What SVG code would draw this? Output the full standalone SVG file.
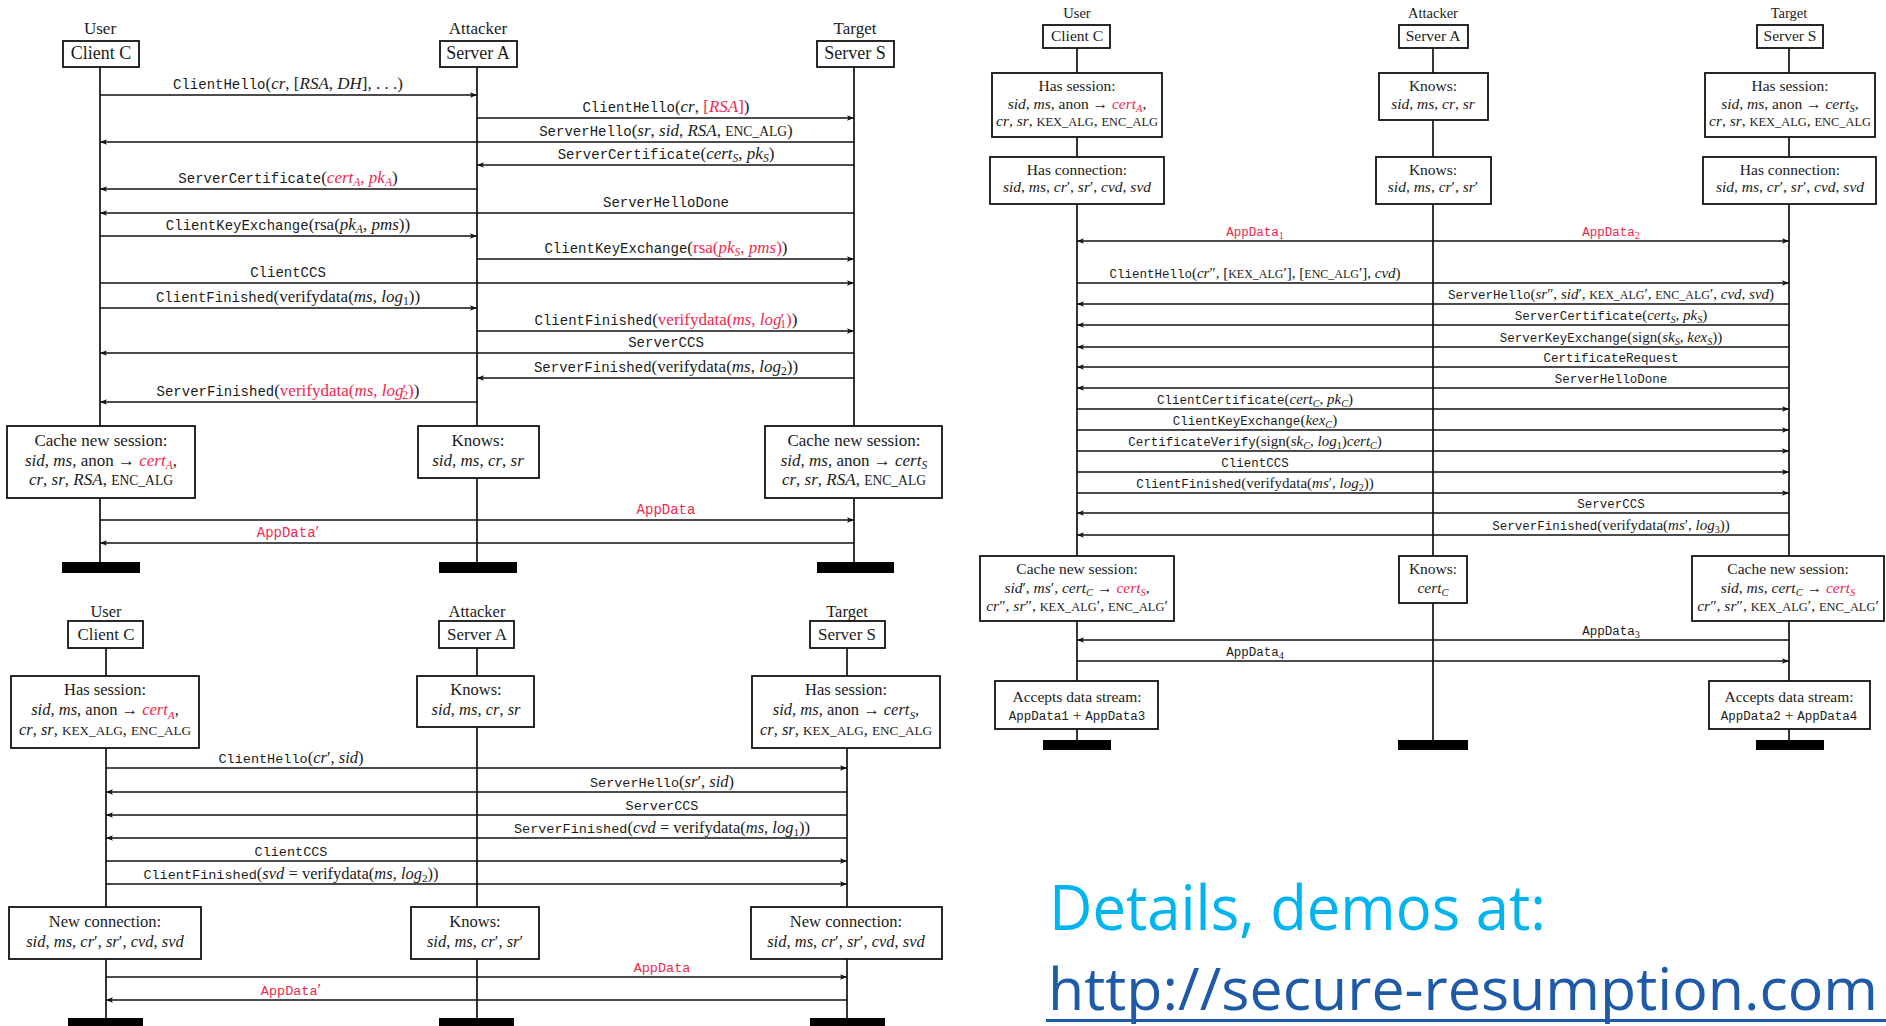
<svg xmlns="http://www.w3.org/2000/svg" width="1886" height="1026" viewBox="0 0 1886 1026">
<defs>
<style>
text { font-family:"Liberation Serif","DejaVu Serif",serif; fill:#1b1b1b; text-anchor:middle; }
.t { font-family:"Liberation Mono","DejaVu Sans Mono",monospace; }
.i { font-style:italic; }
.r { fill:#f0284f; }
.sb { font-size:68%; }
.k { font-size:80%; }
.box { fill:#fff; stroke:#111; stroke-width:1.8; }
.life { stroke:#111; stroke-width:1.7; }
.msg { stroke:#111; stroke-width:1.3; marker-end:url(#ah); }
.bar { fill:#000; }
.s1 text { font-size:17px; } .s1 .t { font-size:14px; } .s1 .hd { font-size:18px; }
.s2 text { font-size:16.5px; } .s2 .t { font-size:13.5px; } .s2 .hd { font-size:17px; }
.s3 text { font-size:15.5px; } .s3 .lab { font-size:15px; } .s3 .t { font-size:12.5px; } .s3 .role { font-size:14.5px; }
.big { font-family:"Open Sans","Noto Sans",sans-serif; font-size:62px; text-anchor:start; }
</style>
<marker id="ah" markerUnits="userSpaceOnUse" markerWidth="9" markerHeight="8" refX="7" refY="4" orient="auto">
<path d="M0,1.2 L7,4 L0,6.8 L1.6,4 z" fill="#111"/>
</marker>
</defs>
<rect width="1886" height="1026" fill="#fff"/>

<!-- ===== connectors: lifelines and messages ===== -->
<g id="connectors">
  <!-- full handshake, top left -->
  <g class="s1">
    <line class="life" x1="100" y1="67" x2="100" y2="562"/>
    <line class="life" x1="477" y1="67" x2="477" y2="562"/>
    <line class="life" x1="854" y1="67" x2="854" y2="562"/>
    <line class="msg" x1="100" y1="95" x2="477" y2="95"/>
    <line class="msg" x1="477" y1="118" x2="854" y2="118"/>
    <line class="msg" x1="854" y1="142" x2="100" y2="142"/>
    <line class="msg" x1="854" y1="165" x2="477" y2="165"/>
    <line class="msg" x1="477" y1="189" x2="100" y2="189"/>
    <line class="msg" x1="854" y1="213" x2="100" y2="213"/>
    <line class="msg" x1="100" y1="236" x2="477" y2="236"/>
    <line class="msg" x1="477" y1="259" x2="854" y2="259"/>
    <line class="msg" x1="100" y1="283" x2="854" y2="283"/>
    <line class="msg" x1="100" y1="308" x2="477" y2="308"/>
    <line class="msg" x1="477" y1="331" x2="854" y2="331"/>
    <line class="msg" x1="854" y1="353" x2="100" y2="353"/>
    <line class="msg" x1="854" y1="378" x2="477" y2="378"/>
    <line class="msg" x1="477" y1="402" x2="100" y2="402"/>
    <line class="msg" x1="100" y1="520" x2="854" y2="520"/>
    <line class="msg" x1="854" y1="543" x2="100" y2="543"/>

    <text x="288" y="88.5"><tspan class="t">ClientHello</tspan>(<tspan class="i">cr</tspan>, [<tspan class="i">RSA</tspan>, <tspan class="i">DH</tspan>], . . .)</text>
    <text x="666" y="111.5"><tspan class="t">ClientHello</tspan>(<tspan class="i">cr</tspan>, <tspan class="r">[<tspan class="i">RSA</tspan>]</tspan>)</text>
    <text x="666" y="135.5"><tspan class="t">ServerHello</tspan>(<tspan class="i">sr</tspan>, <tspan class="i">sid</tspan>, <tspan class="i">RSA</tspan>, <tspan class="k">ENC_ALG</tspan>)</text>
    <text x="666" y="158.5"><tspan class="t">ServerCertificate</tspan>(<tspan class="i">cert</tspan><tspan class="i sb" dy="3.5">S</tspan><tspan dy="-3.5">, </tspan><tspan class="i">pk</tspan><tspan class="i sb" dy="3.5">S</tspan><tspan dy="-3.5">)</tspan></text>
    <text x="288" y="182.5"><tspan class="t">ServerCertificate</tspan>(<tspan class="r"><tspan class="i">cert</tspan><tspan class="i sb" dy="3.5">A</tspan><tspan dy="-3.5">, </tspan><tspan class="i">pk</tspan><tspan class="i sb" dy="3.5">A</tspan></tspan><tspan dy="-3.5">)</tspan></text>
    <text x="666" y="206.5" class="t">ServerHelloDone</text>
    <text x="288" y="229.5"><tspan class="t">ClientKeyExchange</tspan>(rsa(<tspan class="i">pk</tspan><tspan class="i sb" dy="3.5">A</tspan><tspan dy="-3.5">, </tspan><tspan class="i">pms</tspan>))</text>
    <text x="666" y="252.5"><tspan class="t">ClientKeyExchange</tspan>(<tspan class="r">rsa(<tspan class="i">pk</tspan><tspan class="i sb" dy="3.5">S</tspan><tspan dy="-3.5">, </tspan><tspan class="i">pms</tspan>)</tspan>)</text>
    <text x="288" y="276.5" class="t">ClientCCS</text>
    <text x="288" y="301.5"><tspan class="t">ClientFinished</tspan>(verifydata(<tspan class="i">ms</tspan>, <tspan class="i">log</tspan><tspan class="sb" dy="3.5">1</tspan><tspan dy="-3.5">))</tspan></text>
    <text x="666" y="324.5"><tspan class="t">ClientFinished</tspan>(<tspan class="r">verifydata(<tspan class="i">ms</tspan>, <tspan class="i">log</tspan><tspan dx="-1">′</tspan><tspan class="sb" dx="-4" dy="3.5">1</tspan><tspan dy="-3.5">)</tspan></tspan>)</text>
    <text x="666" y="346.5" class="t">ServerCCS</text>
    <text x="666" y="371.5"><tspan class="t">ServerFinished</tspan>(verifydata(<tspan class="i">ms</tspan>, <tspan class="i">log</tspan><tspan class="sb" dy="3.5">2</tspan><tspan dy="-3.5">))</tspan></text>
    <text x="288" y="395.5"><tspan class="t">ServerFinished</tspan>(<tspan class="r">verifydata(<tspan class="i">ms</tspan>, <tspan class="i">log</tspan><tspan dx="-1">′</tspan><tspan class="sb" dx="-4" dy="3.5">2</tspan><tspan dy="-3.5">)</tspan></tspan>)</text>
    <text x="666" y="513.5" class="t r">AppData</text>
    <text x="288" y="536.5" class="r"><tspan class="t">AppData</tspan>′</text>
  </g>

  <!-- abbreviated handshake, bottom left -->
  <g class="s2">
    <line class="life" x1="106" y1="648" x2="106" y2="1018"/>
    <line class="life" x1="477" y1="648" x2="477" y2="1018"/>
    <line class="life" x1="847" y1="648" x2="847" y2="1018"/>
    <line class="msg" x1="106" y1="768" x2="847" y2="768"/>
    <line class="msg" x1="847" y1="792" x2="106" y2="792"/>
    <line class="msg" x1="847" y1="815" x2="106" y2="815"/>
    <line class="msg" x1="847" y1="838" x2="106" y2="838"/>
    <line class="msg" x1="106" y1="861" x2="847" y2="861"/>
    <line class="msg" x1="106" y1="884" x2="847" y2="884"/>
    <line class="msg" x1="106" y1="977" x2="847" y2="977"/>
    <line class="msg" x1="847" y1="1000" x2="106" y2="1000"/>

    <text x="291" y="762.5"><tspan class="t">ClientHello</tspan>(<tspan class="i">cr</tspan>′, <tspan class="i">sid</tspan>)</text>
    <text x="662" y="786.5"><tspan class="t">ServerHello</tspan>(<tspan class="i">sr</tspan>′, <tspan class="i">sid</tspan>)</text>
    <text x="662" y="809.5" class="t">ServerCCS</text>
    <text x="662" y="832.5"><tspan class="t">ServerFinished</tspan>(<tspan class="i">cvd</tspan> = verifydata(<tspan class="i">ms</tspan>, <tspan class="i">log</tspan><tspan class="sb" dy="3.5">1</tspan><tspan dy="-3.5">))</tspan></text>
    <text x="291" y="855.5" class="t">ClientCCS</text>
    <text x="291" y="878.5"><tspan class="t">ClientFinished</tspan>(<tspan class="i">svd</tspan> = verifydata(<tspan class="i">ms</tspan>, <tspan class="i">log</tspan><tspan class="sb" dy="3.5">2</tspan><tspan dy="-3.5">))</tspan></text>
    <text x="662" y="971.5" class="t r">AppData</text>
    <text x="291" y="994.5" class="r"><tspan class="t">AppData</tspan>′</text>
  </g>

  <!-- renegotiation with client certificate, right -->
  <g class="s3">
    <line class="life" x1="1077" y1="48" x2="1077" y2="740"/>
    <line class="life" x1="1433" y1="48" x2="1433" y2="740"/>
    <line class="life" x1="1789" y1="48" x2="1789" y2="740"/>
    <line class="msg" x1="1433" y1="241" x2="1077" y2="241"/>
    <line class="msg" x1="1433" y1="241" x2="1789" y2="241"/>
    <line class="msg" x1="1077" y1="283" x2="1789" y2="283"/>
    <line class="msg" x1="1789" y1="304" x2="1077" y2="304"/>
    <line class="msg" x1="1789" y1="325" x2="1077" y2="325"/>
    <line class="msg" x1="1789" y1="347" x2="1077" y2="347"/>
    <line class="msg" x1="1789" y1="367" x2="1077" y2="367"/>
    <line class="msg" x1="1789" y1="388" x2="1077" y2="388"/>
    <line class="msg" x1="1077" y1="409" x2="1789" y2="409"/>
    <line class="msg" x1="1077" y1="430" x2="1789" y2="430"/>
    <line class="msg" x1="1077" y1="451" x2="1789" y2="451"/>
    <line class="msg" x1="1077" y1="472" x2="1789" y2="472"/>
    <line class="msg" x1="1077" y1="493" x2="1789" y2="493"/>
    <line class="msg" x1="1789" y1="513" x2="1077" y2="513"/>
    <line class="msg" x1="1789" y1="535" x2="1077" y2="535"/>
    <line class="msg" x1="1789" y1="640" x2="1077" y2="640"/>
    <line class="msg" x1="1077" y1="661" x2="1789" y2="661"/>

    <text class="lab r" x="1255" y="236"><tspan class="t">AppData</tspan><tspan class="sb" dy="3">1</tspan></text>
    <text class="lab r" x="1611" y="236"><tspan class="t">AppData</tspan><tspan class="sb" dy="3">2</tspan></text>
    <text class="lab" x="1255" y="278"><tspan class="t">ClientHello</tspan>(<tspan class="i">cr</tspan>″, [<tspan class="k">KEX_ALG</tspan>′], [<tspan class="k">ENC_ALG</tspan>′], <tspan class="i">cvd</tspan>)</text>
    <text class="lab" x="1611" y="299"><tspan class="t">ServerHello</tspan>(<tspan class="i">sr</tspan>″, <tspan class="i">sid</tspan>′, <tspan class="k">KEX_ALG</tspan>′, <tspan class="k">ENC_ALG</tspan>′, <tspan class="i">cvd</tspan>, <tspan class="i">svd</tspan>)</text>
    <text class="lab" x="1611" y="320"><tspan class="t">ServerCertificate</tspan>(<tspan class="i">cert</tspan><tspan class="i sb" dy="3">S</tspan><tspan dy="-3">, </tspan><tspan class="i">pk</tspan><tspan class="i sb" dy="3">S</tspan><tspan dy="-3">)</tspan></text>
    <text class="lab" x="1611" y="342"><tspan class="t">ServerKeyExchange</tspan>(sign(<tspan class="i">sk</tspan><tspan class="i sb" dy="3">S</tspan><tspan dy="-3">, </tspan><tspan class="i">kex</tspan><tspan class="i sb" dy="3">S</tspan><tspan dy="-3">))</tspan></text>
    <text class="t" x="1611" y="362">CertificateRequest</text>
    <text class="t" x="1611" y="383">ServerHelloDone</text>
    <text class="lab" x="1255" y="404"><tspan class="t">ClientCertificate</tspan>(<tspan class="i">cert</tspan><tspan class="i sb" dy="3">C</tspan><tspan dy="-3">, </tspan><tspan class="i">pk</tspan><tspan class="i sb" dy="3">C</tspan><tspan dy="-3">)</tspan></text>
    <text class="lab" x="1255" y="425"><tspan class="t">ClientKeyExchange</tspan>(<tspan class="i">kex</tspan><tspan class="i sb" dy="3">C</tspan><tspan dy="-3">)</tspan></text>
    <text class="lab" x="1255" y="446"><tspan class="t">CertificateVerify</tspan>(sign(<tspan class="i">sk</tspan><tspan class="i sb" dy="3">C</tspan><tspan dy="-3">, </tspan><tspan class="i">log</tspan><tspan class="sb" dy="3">1</tspan><tspan dy="-3">)</tspan><tspan class="i">cert</tspan><tspan class="i sb" dy="3">C</tspan><tspan dy="-3">)</tspan></text>
    <text class="t" x="1255" y="467">ClientCCS</text>
    <text class="lab" x="1255" y="488"><tspan class="t">ClientFinished</tspan>(verifydata(<tspan class="i">ms</tspan>′, <tspan class="i">log</tspan><tspan class="sb" dy="3">2</tspan><tspan dy="-3">))</tspan></text>
    <text class="t" x="1611" y="508">ServerCCS</text>
    <text class="lab" x="1611" y="530"><tspan class="t">ServerFinished</tspan>(verifydata(<tspan class="i">ms</tspan>′, <tspan class="i">log</tspan><tspan class="sb" dy="3">3</tspan><tspan dy="-3">))</tspan></text>
    <text class="lab" x="1611" y="635"><tspan class="t">AppData</tspan><tspan class="sb" dy="3">3</tspan></text>
    <text class="lab" x="1255" y="656"><tspan class="t">AppData</tspan><tspan class="sb" dy="3">4</tspan></text>
  </g>
</g>

<!-- ===== participants and state boxes: full handshake ===== -->
<g class="s1">
  <g id="tl-client">
    <text x="100" y="34">User</text>
    <rect class="box" x="63" y="41" width="76" height="26"/>
    <text class="hd" x="101" y="59">Client C</text>
    <rect class="box" x="7" y="426" width="188" height="72"/>
    <text x="101" y="446">Cache new session:</text>
    <text x="101" y="465.5"><tspan class="i">sid</tspan>, <tspan class="i">ms</tspan>, anon → <tspan class="r"><tspan class="i">cert</tspan><tspan class="i sb" dy="3.5">A</tspan></tspan><tspan dy="-3.5">,</tspan></text>
    <text x="101" y="485"><tspan class="i">cr</tspan>, <tspan class="i">sr</tspan>, <tspan class="i">RSA</tspan>, <tspan class="k">ENC_ALG</tspan></text>
    <rect class="bar" x="62" y="562" width="78" height="11"/>
  </g>
  <g id="tl-attacker">
    <text x="478" y="34">Attacker</text>
    <rect class="box" x="440" y="41" width="77" height="26"/>
    <text class="hd" x="478" y="59">Server A</text>
    <rect class="box" x="418" y="426" width="121" height="52"/>
    <text x="478" y="446">Knows:</text>
    <text x="478" y="465.5"><tspan class="i">sid</tspan>, <tspan class="i">ms</tspan>, <tspan class="i">cr</tspan>, <tspan class="i">sr</tspan></text>
    <rect class="bar" x="439" y="562" width="78" height="11"/>
  </g>
  <g id="tl-target">
    <text x="855" y="34">Target</text>
    <rect class="box" x="817" y="41" width="77" height="26"/>
    <text class="hd" x="855" y="59">Server S</text>
    <rect class="box" x="765" y="426" width="177" height="72"/>
    <text x="854" y="446">Cache new session:</text>
    <text x="854" y="465.5"><tspan class="i">sid</tspan>, <tspan class="i">ms</tspan>, anon → <tspan class="i">cert</tspan><tspan class="i sb" dy="3.5">S</tspan></text>
    <text x="854" y="485"><tspan class="i">cr</tspan>, <tspan class="i">sr</tspan>, <tspan class="i">RSA</tspan>, <tspan class="k">ENC_ALG</tspan></text>
    <rect class="bar" x="817" y="562" width="77" height="11"/>
  </g>
</g>

<!-- ===== participants and state boxes: abbreviated handshake ===== -->
<g class="s2">
  <g id="bl-client">
    <text x="106" y="617">User</text>
    <rect class="box" x="68" y="621" width="75" height="27"/>
    <text class="hd" x="106" y="640">Client C</text>
    <rect class="box" x="11" y="676" width="188" height="72"/>
    <text x="105" y="695">Has session:</text>
    <text x="105" y="715"><tspan class="i">sid</tspan>, <tspan class="i">ms</tspan>, anon → <tspan class="r"><tspan class="i">cert</tspan><tspan class="i sb" dy="3.5">A</tspan></tspan><tspan dy="-3.5">,</tspan></text>
    <text x="105" y="735"><tspan class="i">cr</tspan>, <tspan class="i">sr</tspan>, <tspan class="k">KEX_ALG</tspan>, <tspan class="k">ENC_ALG</tspan></text>
    <rect class="box" x="9" y="907" width="192" height="52"/>
    <text x="105" y="927">New connection:</text>
    <text x="105" y="947"><tspan class="i">sid</tspan>, <tspan class="i">ms</tspan>, <tspan class="i">cr</tspan>′, <tspan class="i">sr</tspan>′, <tspan class="i">cvd</tspan>, <tspan class="i">svd</tspan></text>
    <rect class="bar" x="68" y="1018" width="75" height="12"/>
  </g>
  <g id="bl-attacker">
    <text x="477" y="617">Attacker</text>
    <rect class="box" x="439" y="621" width="75" height="27"/>
    <text class="hd" x="477" y="640">Server A</text>
    <rect class="box" x="417" y="676" width="117" height="51"/>
    <text x="476" y="695">Knows:</text>
    <text x="476" y="715"><tspan class="i">sid</tspan>, <tspan class="i">ms</tspan>, <tspan class="i">cr</tspan>, <tspan class="i">sr</tspan></text>
    <rect class="box" x="411" y="907" width="128" height="52"/>
    <text x="475" y="927">Knows:</text>
    <text x="475" y="947"><tspan class="i">sid</tspan>, <tspan class="i">ms</tspan>, <tspan class="i">cr</tspan>′, <tspan class="i">sr</tspan>′</text>
    <rect class="bar" x="439" y="1018" width="75" height="12"/>
  </g>
  <g id="bl-target">
    <text x="847" y="617">Target</text>
    <rect class="box" x="810" y="621" width="75" height="27"/>
    <text class="hd" x="847" y="640">Server S</text>
    <rect class="box" x="752" y="676" width="188" height="72"/>
    <text x="846" y="695">Has session:</text>
    <text x="846" y="715"><tspan class="i">sid</tspan>, <tspan class="i">ms</tspan>, anon → <tspan class="i">cert</tspan><tspan class="i sb" dy="3.5">S</tspan><tspan dy="-3.5">,</tspan></text>
    <text x="846" y="735"><tspan class="i">cr</tspan>, <tspan class="i">sr</tspan>, <tspan class="k">KEX_ALG</tspan>, <tspan class="k">ENC_ALG</tspan></text>
    <rect class="box" x="751" y="907" width="191" height="52"/>
    <text x="846" y="927">New connection:</text>
    <text x="846" y="947"><tspan class="i">sid</tspan>, <tspan class="i">ms</tspan>, <tspan class="i">cr</tspan>′, <tspan class="i">sr</tspan>′, <tspan class="i">cvd</tspan>, <tspan class="i">svd</tspan></text>
    <rect class="bar" x="810" y="1018" width="75" height="12"/>
  </g>
</g>

<!-- ===== participants and state boxes: renegotiation ===== -->
<g class="s3">
  <g id="r-client">
    <text class="role" x="1077" y="18">User</text>
    <rect class="box" x="1043" y="25" width="67" height="23"/>
    <text x="1077" y="41">Client C</text>
    <rect class="box" x="992" y="73" width="170" height="64"/>
    <text x="1077" y="91">Has session:</text>
    <text x="1077" y="108.5"><tspan class="i">sid</tspan>, <tspan class="i">ms</tspan>, anon → <tspan class="r"><tspan class="i">cert</tspan><tspan class="i sb" dy="3">A</tspan></tspan><tspan dy="-3">,</tspan></text>
    <text x="1077" y="126"><tspan class="i">cr</tspan>, <tspan class="i">sr</tspan>, <tspan class="k">KEX_ALG</tspan>, <tspan class="k">ENC_ALG</tspan></text>
    <rect class="box" x="990" y="157" width="174" height="47"/>
    <text x="1077" y="175">Has connection:</text>
    <text x="1077" y="192"><tspan class="i">sid</tspan>, <tspan class="i">ms</tspan>, <tspan class="i">cr</tspan>′, <tspan class="i">sr</tspan>′, <tspan class="i">cvd</tspan>, <tspan class="i">svd</tspan></text>
    <rect class="box" x="980" y="556" width="194" height="65"/>
    <text x="1077" y="574">Cache new session:</text>
    <text x="1077" y="593"><tspan class="i">sid</tspan>′, <tspan class="i">ms</tspan>′, <tspan class="i">cert</tspan><tspan class="i sb" dy="3">C</tspan><tspan dy="-3"> → </tspan><tspan class="r"><tspan class="i">cert</tspan><tspan class="i sb" dy="3">S</tspan></tspan><tspan dy="-3">,</tspan></text>
    <text x="1077" y="611"><tspan class="i">cr</tspan>″, <tspan class="i">sr</tspan>″, <tspan class="k">KEX_ALG</tspan>′, <tspan class="k">ENC_ALG</tspan>′</text>
    <rect class="box" x="995" y="681" width="163" height="48"/>
    <text x="1077" y="702">Accepts data stream:</text>
    <text x="1077" y="720"><tspan class="t">AppData1</tspan> + <tspan class="t">AppData3</tspan></text>
    <rect class="bar" x="1043" y="740" width="68" height="10"/>
  </g>
  <g id="r-attacker">
    <text class="role" x="1433" y="18">Attacker</text>
    <rect class="box" x="1399" y="25" width="69" height="23"/>
    <text x="1433" y="41">Server A</text>
    <rect class="box" x="1379" y="73" width="109" height="47"/>
    <text x="1433" y="91">Knows:</text>
    <text x="1433" y="108.5"><tspan class="i">sid</tspan>, <tspan class="i">ms</tspan>, <tspan class="i">cr</tspan>, <tspan class="i">sr</tspan></text>
    <rect class="box" x="1376" y="157" width="115" height="47"/>
    <text x="1433" y="175">Knows:</text>
    <text x="1433" y="192"><tspan class="i">sid</tspan>, <tspan class="i">ms</tspan>, <tspan class="i">cr</tspan>′, <tspan class="i">sr</tspan>′</text>
    <rect class="box" x="1399" y="556" width="68" height="47"/>
    <text x="1433" y="574">Knows:</text>
    <text x="1433" y="593"><tspan class="i">cert</tspan><tspan class="i sb" dy="3">C</tspan></text>
    <rect class="bar" x="1398" y="740" width="70" height="10"/>
  </g>
  <g id="r-target">
    <text class="role" x="1789" y="18">Target</text>
    <rect class="box" x="1757" y="25" width="66" height="23"/>
    <text x="1790" y="41">Server S</text>
    <rect class="box" x="1705" y="73" width="170" height="64"/>
    <text x="1790" y="91">Has session:</text>
    <text x="1790" y="108.5"><tspan class="i">sid</tspan>, <tspan class="i">ms</tspan>, anon → <tspan class="i">cert</tspan><tspan class="i sb" dy="3">S</tspan><tspan dy="-3">,</tspan></text>
    <text x="1790" y="126"><tspan class="i">cr</tspan>, <tspan class="i">sr</tspan>, <tspan class="k">KEX_ALG</tspan>, <tspan class="k">ENC_ALG</tspan></text>
    <rect class="box" x="1703" y="157" width="173" height="47"/>
    <text x="1790" y="175">Has connection:</text>
    <text x="1790" y="192"><tspan class="i">sid</tspan>, <tspan class="i">ms</tspan>, <tspan class="i">cr</tspan>′, <tspan class="i">sr</tspan>′, <tspan class="i">cvd</tspan>, <tspan class="i">svd</tspan></text>
    <rect class="box" x="1692" y="556" width="192" height="65"/>
    <text x="1788" y="574">Cache new session:</text>
    <text x="1788" y="593"><tspan class="i">sid</tspan>, <tspan class="i">ms</tspan>, <tspan class="i">cert</tspan><tspan class="i sb" dy="3">C</tspan><tspan dy="-3"> → </tspan><tspan class="r"><tspan class="i">cert</tspan><tspan class="i sb" dy="3">S</tspan></tspan></text>
    <text x="1788" y="611"><tspan class="i">cr</tspan>″, <tspan class="i">sr</tspan>″, <tspan class="k">KEX_ALG</tspan>′, <tspan class="k">ENC_ALG</tspan>′</text>
    <rect class="box" x="1709" y="681" width="161" height="48"/>
    <text x="1789" y="702">Accepts data stream:</text>
    <text x="1789" y="720"><tspan class="t">AppData2</tspan> + <tspan class="t">AppData4</tspan></text>
    <rect class="bar" x="1756" y="740" width="68" height="10"/>
  </g>
</g>

<!-- ===== footer link ===== -->
<g id="footer">
  <text class="big" x="1049" y="930" style="fill:#00b4ef" textLength="497" lengthAdjust="spacingAndGlyphs">Details, demos at:</text>
  <text class="big" x="1048" y="1010" style="fill:#1f5aa8;font-size:58px" textLength="830" lengthAdjust="spacingAndGlyphs">http://secure-resumption.com</text>
  <rect x="1046" y="1019" width="840" height="3" fill="#1f5aa8"/>
</g>
</svg>
